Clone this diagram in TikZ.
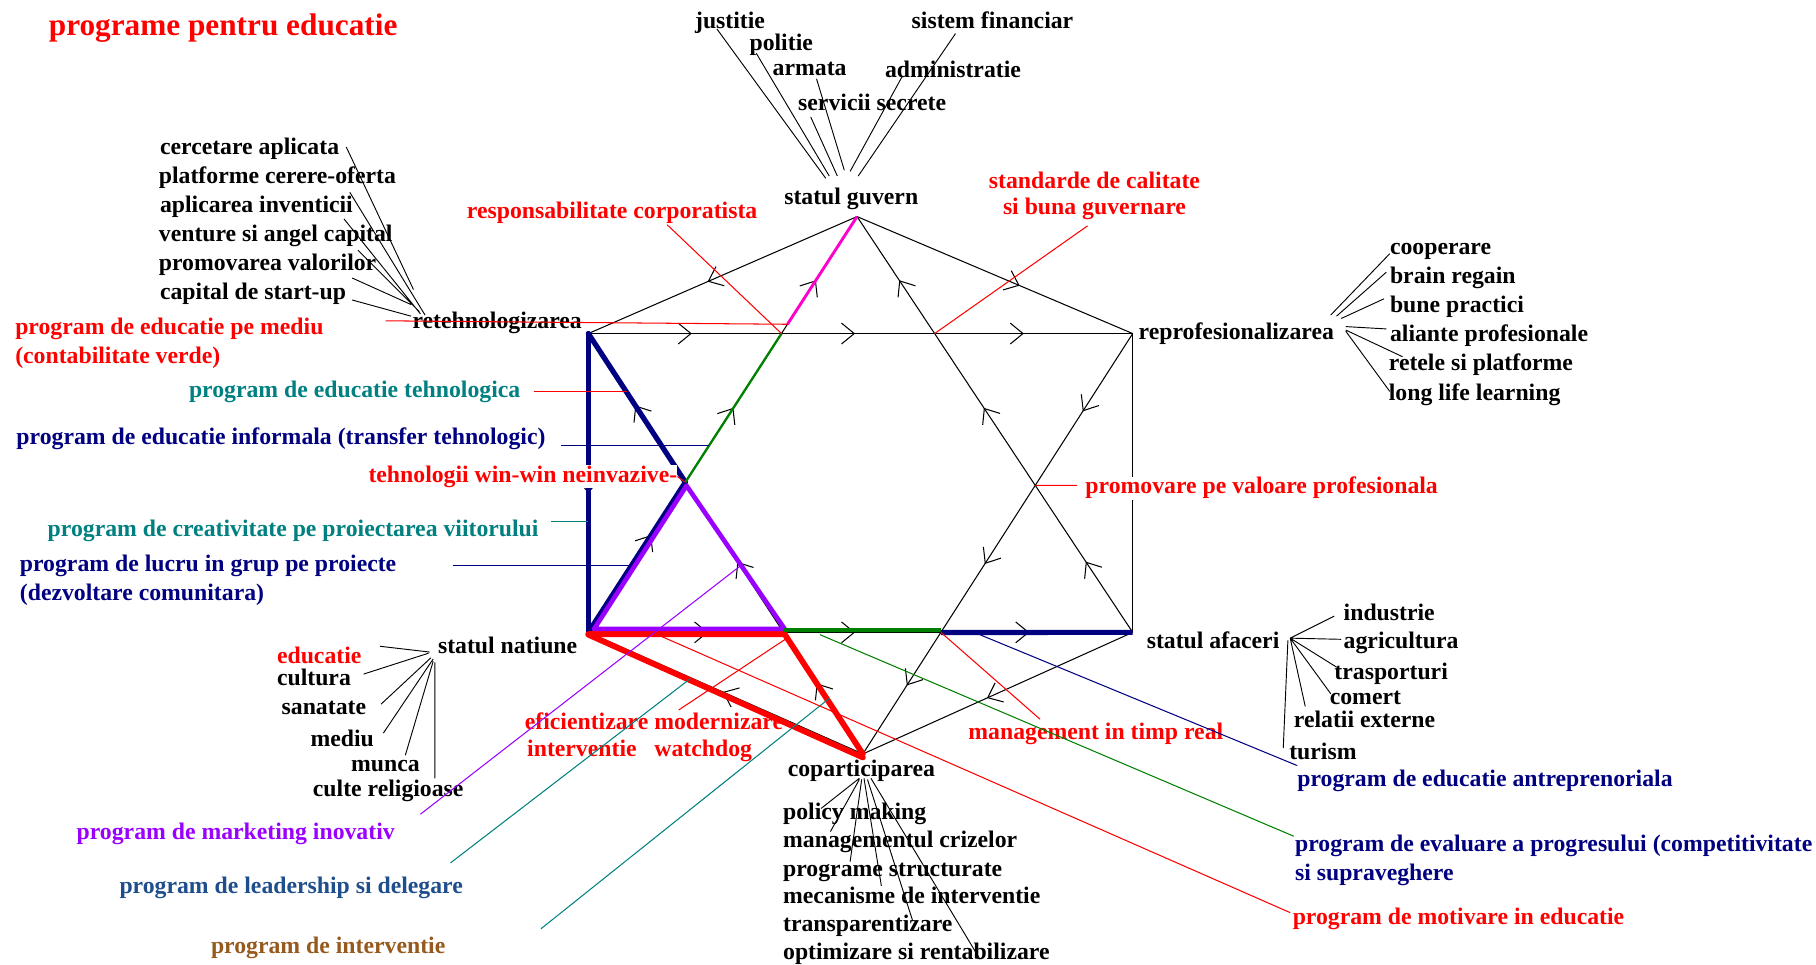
\documentclass[tikz,border=0pt]{standalone}
\usepackage{fontspec}
\setmainfont{Liberation Serif}
\usetikzlibrary{arrows.meta,decorations.markings,calc}
\definecolor{cRed}{RGB}{255,0,0}
\definecolor{cNavy}{RGB}{0,0,128}
\definecolor{cTeal}{RGB}{0,128,128}
\definecolor{cPurple}{RGB}{153,0,255}
\definecolor{cGreen}{RGB}{0,128,0}
\definecolor{cMag}{RGB}{255,0,204}
\definecolor{cSteel}{RGB}{31,78,140}
\definecolor{cBrown}{RGB}{150,90,30}
\begin{document}
\begin{tikzpicture}[x=1pt,y=-1pt,
  >={Straight Barb[length=11pt,width=18pt]},
  lbl/.style={font=\fontsize{20.5}{24}\selectfont\bfseries, inner sep=0pt, anchor=west, text height=14pt, text depth=4pt, yshift=-2.5pt},
  ttl/.style={font=\fontsize{27}{30}\selectfont\bfseries, inner sep=0pt, anchor=west, text=cRed},
  thinl/.style={line width=0.9pt},
  fan/.style={line width=0.8pt},
  lead/.style={line width=0.9pt},
  arrone/.style={postaction={decorate,decoration={markings,mark=at position #1 with {\arrow{>}}}}},
  arrthree/.style n args={3}{postaction={decorate,decoration={markings,
     mark=at position #1 with {\arrow{>}},
     mark=at position #2 with {\arrow{>}},
     mark=at position #3 with {\arrow{>}}}}},
  thick1/.style={line width=4.5pt, line cap=round},
  whitelbl/.style={lbl, fill=white, inner xsep=0pt, inner ysep=1pt}
]
\useasboundingbox (0,0) rectangle (1568,833);

% ---------- vertices ----------
\coordinate (G) at (740,187);
\coordinate (P) at (978,288);
\coordinate (A) at (978,546);
\coordinate (C) at (745,651);
\coordinate (N) at (508,546);
\coordinate (R) at (508,288);
\coordinate (X1) at (intersection of G--N and R--C);
\coordinate (X2) at (intersection of R--C and N--A);
\coordinate (M) at (intersection of P--C and N--A);
\coordinate (H) at (intersection of G--N and R--P);
\coordinate (K) at (intersection of G--A and R--P);
\coordinate (Z) at (intersection of G--A and P--C);
\coordinate (Gm) at ($(G)!0.259!(N)$);

% ---------- title ----------
\node[ttl] (title) at (42,24) {programe pentru educatie};

% ---------- main labels ----------
\node[lbl] (lguv) at (677,169) {statul guvern};
\node[lbl] (lret) at (356,276) {retehnologizarea};
\node[lbl] (lrep) at (983,286) {reprofesionalizarea};
\node[lbl] (lafa) at (990,552) {statul afaceri};
\node[lbl] (lnat) at (378,557) {statul natiune};
\node[lbl] (lcop) at (680,663) {coparticiparea};

% ---------- guvern words ----------
\node[lbl] (wjus) at (600,17) {justitie};
\node[lbl] (wpol) at (647,36) {politie};
\node[lbl] (warm) at (667,58) {armata};
\node[lbl] (wser) at (689,88) {servicii secrete};
\node[lbl] (wadm) at (764,59) {administratie};
\node[lbl] (wsis) at (787,17) {sistem financiar};

% ---------- retehnologizare words ----------
\node[lbl] (wcer) at (138,126) {cercetare aplicata};
\node[lbl] (wpla) at (137,151) {platforme cerere-oferta};
\node[lbl] (wapl) at (138,176) {aplicarea inventicii};
\node[lbl] (wven) at (137,201) {venture si angel capital};
\node[lbl] (wpro) at (137,226) {promovarea valorilor};
\node[lbl] (wcap) at (138,251) {capital de start-up};

% ---------- reprofesionalizare words ----------
\node[lbl] (wcoo) at (1200,212) {cooperare};
\node[lbl] (wbra) at (1200,237) {brain regain};
\node[lbl] (wbun) at (1200,262) {bune practici};
\node[lbl] (wali) at (1200,287) {aliante profesionale};
\node[lbl] (wret) at (1199,312) {retele si platforme};
\node[lbl] (wlon) at (1199,338) {long life learning};

% ---------- afaceri words ----------
\node[lbl] (wind) at (1160,528) {industrie};
\node[lbl] (wagr) at (1160,552) {agricultura};
\node[lbl] (wtra) at (1152,579) {trasporturi};
\node[lbl] (wcom) at (1148,601) {comert};
\node[lbl] (wrel) at (1117,621) {relatii externe};
\node[lbl] (wtur) at (1113,648) {turism};

% ---------- natiune words ----------
\node[lbl,text=cRed] (wedu) at (239,565) {educatie};
\node[lbl] (wcul) at (239,584) {cultura};
\node[lbl] (wsan) at (243,609) {sanatate};
\node[lbl] (wmed) at (268,637) {mediu};
\node[lbl] (wmun) at (303,659) {munca};
\node[lbl] (wrlg) at (270,680) {culte religioase};

% ---------- coparticipare words ----------
\node[lbl] (wpol2) at (676,700) {policy making};
\node[lbl] (wman) at (676,724) {managementul crizelor};
\node[lbl] (wprg) at (676,749) {programe structurate};
\node[lbl] (wmec) at (676,773) {mecanisme de interventie};
\node[lbl] (wtrn) at (676,797) {transparentizare};
\node[lbl] (wopt) at (676,821) {optimizare si rentabilizare};

% ---------- program labels ----------
\node[lbl,text=cRed] (pmed1) at (13,281) {program de educatie pe mediu};
\node[lbl,text=cRed] (pmed2) at (13,306) {(contabilitate verde)};
\node[lbl,text=cTeal] (pteh) at (163,336) {program de educatie tehnologica};
\node[lbl,text=cNavy] (pinf) at (14,376) {program de educatie informala (transfer tehnologic)};
\node[lbl,text=cTeal] (pcre) at (41,456) {program de creativitate pe proiectarea viitorului};
\node[lbl,text=cNavy] (pluc1) at (17,486) {program de lucru in grup pe proiecte};
\node[lbl,text=cNavy] (pluc2) at (17,511) {(dezvoltare comunitara)};
\node[lbl,text=cPurple] (pmar) at (66,717) {program de marketing inovativ};
\node[lbl,text=cSteel] (plea) at (103,764) {program de leadership si delegare};
\node[lbl,text=cBrown] (pint) at (182,816) {program de interventie};
\node[lbl,text=cRed] (peff1) at (453,622) {eficientizare modernizare};
\node[lbl,text=cRed] (peff2) at (455,646) {interventie\ \ \ watchdog};
\node[lbl,text=cRed] (pman) at (836,631) {management in timp real};
\node[lbl,text=cNavy] (pant) at (1120,672) {program de educatie antreprenoriala};
\node[lbl,text=cNavy] (peva1) at (1118,728) {program de evaluare a progresului (competitivitate};
\node[lbl,text=cNavy] (peva2) at (1118,753) {si supraveghere};
\node[lbl,text=cRed] (pmot) at (1116,791) {program de motivare in educatie};
\node[lbl,text=cRed] (presp) at (403,181) {responsabilitate corporatista};
\node[lbl,text=cRed,anchor=center] (pstd1) at (945,155) {standarde de calitate};
\node[lbl,text=cRed,anchor=center] (pstd2) at (945,178) {si buna guvernare};

% ---------- fan line end points ----------
\coordinate (fj1) at (619,25);  \coordinate (fj2) at (713,154);
\coordinate (fp1) at (653,46);  \coordinate (fp2) at (716,152);
\coordinate (fa1) at (705,68);  \coordinate (fa2) at (729,147);
\coordinate (fs1) at (700,101); \coordinate (fs2) at (723,152);
\coordinate (fd1) at (779,66);  \coordinate (fd2) at (734,148);
\coordinate (ff1) at (825,29);  \coordinate (ff2) at (741,152);

\coordinate (rc1) at (299,127); \coordinate (rc2) at (357,250);
\coordinate (rp1) at (302,166); \coordinate (rp2) at (367,272);
\coordinate (ra1) at (297,189); \coordinate (ra2) at (363,271);
\coordinate (rv1) at (309,216); \coordinate (rv2) at (362,269);
\coordinate (rm1) at (304,240); \coordinate (rm2) at (355,263);
\coordinate (rk1) at (304,259); \coordinate (rk2) at (355,273);

\coordinate (pc1) at (1200,219); \coordinate (pc2) at (1149,272);
\coordinate (pb1) at (1197,235); \coordinate (pb2) at (1154,273);
\coordinate (pp1) at (1195,258); \coordinate (pp2) at (1158,275);
\coordinate (pa1) at (1197,284); \coordinate (pa2) at (1162,282);
\coordinate (pr1) at (1211,308); \coordinate (pr2) at (1162,285);
\coordinate (pl1) at (1200,338); \coordinate (pl2) at (1162,286);

\coordinate (ah) at (1114,551);
\coordinate (ai) at (1152,532);
\coordinate (ag) at (1158,552);
\coordinate (at) at (1154,576);
\coordinate (ac) at (1149,599);
\coordinate (ar) at (1127,610);
\coordinate (ath) at (1112,553); \coordinate (atu) at (1108,646);

\coordinate (ne1) at (328,558); \coordinate (ne2) at (371,563);
\coordinate (nc1) at (314,582); \coordinate (nc2) at (370,564);
\coordinate (ns1) at (329,608); \coordinate (ns2) at (372,568);
\coordinate (nm1) at (331,633); \coordinate (nm2) at (374,569);
\coordinate (nu1) at (350,652); \coordinate (nu2) at (374,571);
\coordinate (nr1) at (375.5,672); \coordinate (nr2) at (375.5,572);

\coordinate (cp1) at (742,672); \coordinate (cp2) at (709,698);
\coordinate (cm1) at (742,673); \coordinate (cm2) at (717,718);
\coordinate (cg1) at (744,673); \coordinate (cg2) at (734,744);
\coordinate (ce1) at (746,672); \coordinate (ce2) at (761,765);
\coordinate (ct1) at (749,673); \coordinate (ct2) at (788,795);
\coordinate (co1) at (752,672); \coordinate (co2) at (846,828);

\draw[fan] (fj1)--(fj2) (fp1)--(fp2) (fa1)--(fa2) (fs1)--(fs2) (fd1)--(fd2) (ff1)--(ff2);
\draw[fan] (rc1)--(rc2) (rp1)--(rp2) (ra1)--(ra2) (rv1)--(rv2) (rm1)--(rm2) (rk1)--(rk2);
\draw[fan] (pc1)--(pc2) (pb1)--(pb2) (pp1)--(pp2) (pa1)--(pa2) (pr1)--(pr2) (pl1)--(pl2);
\draw[fan] (ah)--(ai) (ah)--(ag) (ah)--(at) (ah)--(ac) (ah)--(ar) (ath)--(atu);
\draw[fan] (ne1)--(ne2) (nc1)--(nc2) (ns1)--(ns2) (nm1)--(nm2) (nu1)--(nu2) (nr1)--(nr2);
\draw[fan] (cp1)--(cp2) (cm1)--(cm2) (cg1)--(cg2) (ce1)--(ce2) (ct1)--(ct2) (co1)--(co2);

% ---------- black network with arrows ----------
\draw[thinl, arrthree={0.19}{0.49}{0.80}] (R) -- (P);
\draw[thinl, arrthree={0.22}{0.49}{0.81}] (N) -- (A);
\draw[thinl, arrthree={0.17}{0.54}{0.847}] (A) -- (G);
\draw[thinl, arrthree={0.185}{0.548}{0.837}] (P) -- (C);
\draw[thinl, arrthree={0.234}{0.54}{0.847}] (N) -- (G);
\draw[thinl, arrthree={0.168}{0.457}{0.829}] (C) -- (R);
\draw[thinl, arrone=0.556] (G) -- (R);
\draw[thinl, arrone=0.59] (G) -- (P);
\draw[thinl, arrone=0.535] (R) -- (N);
\draw[thinl, arrone=0.56] (P) -- (A);
\draw[thinl, arrone=0.54] (A) -- (C);
\draw[thinl, arrone=0.51] (C) -- (N);

% ---------- coloured overlays ----------
\draw[thick1, cNavy] (R) -- (N);
\draw[thick1, cNavy] (R) -- (X1);
\draw[thick1, cNavy] (X1) -- (N);
\draw[line width=5pt, cRed, line cap=round] ($(N)+(0,1.5)$) -- ($(X2)+(0,1.5)$);
\draw[line width=5pt, cRed, line cap=round] ($(N)+(0,2)$) -- ($(C)+(0,3)$);
\draw[line width=5pt, cRed, line cap=round] (X2) -- (C);
\draw[line width=4pt, cPurple, line join=round] ($(X1)+(1,3)$) -- ($(N)+(5,-3)$) -- ($(X2)+(1,-3)$) -- cycle;
\draw[line width=3.5pt, cGreen] ($(X2)+(0,-2)$) -- ($(M)+(0,-2)$);
\draw[line width=4.5pt, cNavy] (M) -- (A);
\draw[line width=2pt, cGreen] (H) -- (X1);
\draw[line width=2.5pt, cMag] (G) -- (Gm);

% ---------- leader lines ----------
\coordinate (lm) at (333,277);
\coordinate (lt1) at (461,338); \coordinate (lt2) at (541,338);
\coordinate (li1) at (484,385); \coordinate (li2) at (612,385);
\coordinate (lc1) at (476,450); \coordinate (lc2) at (508,450);
\coordinate (ll1) at (391,488); \coordinate (ll2) at (545,488);
\coordinate (lk1) at (363,703); \coordinate (lk2) at (640,488);
\coordinate (ld1) at (389,745); \coordinate (ld2) at (596,586);
\coordinate (lv1) at (467,802); \coordinate (lv2) at (716,603);
\coordinate (le1) at (586,613); \coordinate (le2) at (678,552);
\coordinate (lo1) at (570,549); \coordinate (lo2) at (1114,788);
\coordinate (lg1) at (708,548); \coordinate (lg2) at (1117,722);
\coordinate (lb1) at (846,548); \coordinate (lb2) at (1120,661);
\coordinate (lr2) at (898,621);
\coordinate (ls1) at (939,195);
\coordinate (lq1) at (576,194);
\coordinate (lz2) at (930,419);

\draw[lead, cRed] (lm) -- (Gm);
\draw[lead, cRed] (lt1) -- (lt2);
\draw[lead, cNavy] (li1) -- (li2);
\draw[lead, cTeal] (lc1) -- (lc2);
\draw[lead, cNavy] (ll1) -- (ll2);
\draw[lead, cPurple] (lk1) -- (lk2);
\draw[lead, cTeal] (ld1) -- (ld2);
\draw[lead, cTeal] (lv1) -- (lv2);
\draw[lead, cRed] (le1) -- (le2);
\draw[lead, cRed] (lo1) -- (lo2);
\draw[lead, cGreen] (lg1) -- (lg2);
\draw[lead, cNavy] (lb1) -- (lb2);
\draw[lead, cRed] (M) -- (lr2);
\draw[lead, cRed] (ls1) -- (K);
\draw[lead, cRed] (lq1) -- (H);

% ---------- labels with white ground ----------
\node[whitelbl,text=cRed] (pwin) at (318,409) {tehnologii win-win neinvazive-};
\node[whitelbl,text=cRed] (pprm) at (937,419) {promovare pe valoare profesionala};
\draw[lead, cRed] (pwin.east) -- (X1);
\draw[lead, cRed] (Z) -- (lz2);
\end{tikzpicture}
\end{document}
